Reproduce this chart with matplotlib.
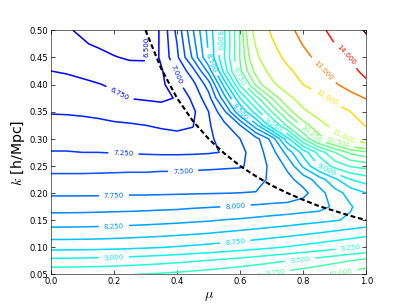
import numpy as np
import matplotlib
matplotlib.use("Agg")
import matplotlib.pyplot as plt
from matplotlib.colors import Normalize

# grid axes
mu = [0.00, 0.05, 0.10, 0.15, 0.20, 0.25, 0.30, 0.35, 0.40, 0.45, 0.50,
      0.55, 0.60, 0.65, 0.70, 0.75, 0.80, 0.85, 0.90, 0.95, 1.00]
k = [0.050, 0.075, 0.100, 0.125, 0.150, 0.175, 0.200, 0.225, 0.250, 0.275,
     0.300, 0.325, 0.350, 0.375, 0.400, 0.425, 0.450, 0.475, 0.500]

# estimated field values, one row per k
z_k050 = [9.45, 9.452, 9.457, 9.466, 9.478, 9.494, 9.513, 9.536, 9.562, 9.592, 9.625, 9.662, 9.702, 9.746, 9.793, 9.844, 9.898, 9.956, 10.017, 10.082, 10.15]
z_k075 = [9.08, 9.082, 9.088, 9.097, 9.11, 9.127, 9.148, 9.172, 9.2, 9.232, 9.268, 9.307, 9.35, 9.397, 9.448, 9.502, 9.56, 9.622, 9.688, 9.757, 9.83]
z_k100 = [8.67, 8.672, 8.676, 8.684, 8.695, 8.709, 8.726, 8.746, 8.769, 8.796, 8.825, 8.858, 8.893, 8.932, 8.974, 9.019, 9.067, 9.118, 9.172, 9.23, 9.29]
z_k125 = [8.375, 8.376, 8.38, 8.387, 8.397, 8.41, 8.425, 8.442, 8.463, 8.486, 8.51, 8.541, 8.573, 8.607, 8.645, 8.684, 8.727, 8.772, 8.821, 8.871, 8.925]
z_k150 = [8.12, 8.121, 8.125, 8.13, 8.14, 8.15, 8.16, 8.175, 8.19, 8.21, 8.23, 8.26, 8.28, 8.31, 8.34, 8.37, 8.41, 8.445, 8.485, 8.53, 8.57]
z_k175 = [7.9, 7.9, 7.903, 7.91, 7.914, 7.92, 7.93, 7.94, 7.95, 7.97, 7.985, 8.0, 8.02, 8.04, 8.07, 8.09, 8.12, 8.15, 8.3, 8.48, 8.62]
z_k200 = [7.71, 7.71, 7.71, 7.71, 7.715, 7.72, 7.72, 7.725, 7.73, 7.735, 7.74, 7.746, 7.753, 7.76, 7.77, 7.8, 7.93, 8.15, 8.4, 8.59, 8.75]
z_k225 = [7.57, 7.57, 7.57, 7.57, 7.58, 7.58, 7.58, 7.59, 7.59, 7.6, 7.6, 7.61, 7.62, 7.66, 7.8, 7.93, 8.1, 8.375, 8.69, 9.0, 9.12]
z_k250 = [7.41, 7.41, 7.41, 7.42, 7.42, 7.43, 7.43, 7.44, 7.44, 7.45, 7.46, 7.47, 7.48, 7.56, 7.83, 8.05, 8.55, 9.0, 9.35, 9.53, 9.6]
z_k275 = [7.26, 7.26, 7.25, 7.25, 7.24, 7.23, 7.22, 7.21, 7.21, 7.215, 7.23, 7.26, 7.43, 7.62, 7.89, 8.35, 8.85, 9.35, 9.75, 10.06, 10.2]
z_k300 = [7.16, 7.16, 7.15, 7.14, 7.12, 7.10, 7.08, 7.06, 7.04, 7.06, 7.2, 7.35, 7.5, 7.66, 8.08, 8.92, 9.75, 10.36, 10.71, 11.07, 11.36]
z_k325 = [7.07, 7.07, 7.06, 7.05, 7.03, 7.02, 7.0, 6.98, 6.97, 6.99, 7.22, 7.44, 7.75, 8.42, 9.19, 9.81, 10.33, 10.77, 11.22, 11.65, 12.05]
z_k350 = [6.985, 6.98, 6.97, 6.95, 6.92, 6.89, 6.85, 6.82, 6.86, 6.95, 7.25, 7.70, 8.5, 9.125, 9.75, 10.33, 10.875, 11.29, 11.64, 12.0, 12.5]
z_k375 = [6.91, 6.90, 6.88, 6.84, 6.79, 6.745, 6.73, 6.72, 6.76, 7.06, 7.40, 8.15, 9.0, 9.65, 10.25, 10.81, 11.32, 11.77, 12.22, 12.65, 13.05]
z_k400 = [6.83, 6.82, 6.79, 6.76, 6.72, 6.69, 6.67, 6.69, 6.94, 7.17, 7.62, 8.6, 9.55, 10.3, 10.85, 11.38, 12.0, 12.45, 12.9, 13.38, 13.85]
z_k425 = [6.75, 6.73, 6.70, 6.66, 6.61, 6.57, 6.56, 6.72, 7.03, 7.40, 8.08, 9.1, 9.95, 10.6, 11.2, 11.82, 12.36, 12.84, 13.32, 13.8, 14.2]
z_k450 = [6.69, 6.66, 6.62, 6.57, 6.51, 6.48, 6.48, 6.80, 7.20, 7.79, 8.5, 9.25, 10.02, 10.85, 11.6, 12.23, 12.74, 13.22, 13.65, 14.04, 14.5]
z_k475 = [6.64, 6.58, 6.52, 6.47, 6.44, 6.44, 6.47, 6.80, 7.25, 7.89, 8.55, 9.22, 10.02, 11.05, 11.88, 12.49, 13.05, 13.52, 14.0, 14.4, 14.8]
z_k500 = [6.60, 6.52, 6.47, 6.43, 6.41, 6.42, 6.47, 6.80, 7.32, 7.98, 8.59, 9.23, 10.04, 11.26, 12.125, 12.75, 13.3, 13.8, 14.25, 14.67, 15.08]

levels = [6.5, 6.75, 7.0, 7.25, 7.5, 7.75, 8.0, 8.25, 8.5, 8.75, 9.0, 9.25,
          9.5, 9.75, 10.0, 10.25, 10.5, 11.0, 12.0, 13.0, 14.0, 15.0]

# dashed cut line (k_parallel limit)
cut_mu = [0.30, 0.35, 0.40, 0.45, 0.50, 0.55, 0.60, 0.65, 0.70, 0.75, 0.80,
          0.85, 0.90, 0.95, 1.00]
cut_k = [0.500, 0.429, 0.375, 0.333, 0.300, 0.273, 0.250, 0.231, 0.214, 0.200,
         0.1875, 0.176, 0.167, 0.158, 0.150]

Z = np.array([z_k050, z_k075, z_k100, z_k125, z_k150, z_k175, z_k200, z_k225,
              z_k250, z_k275, z_k300, z_k325, z_k350, z_k375, z_k400, z_k425,
              z_k450, z_k475, z_k500])

# where the inline labels sit in the reference (layout only)
label_spots = [(0.315, 0.47), (0.22, 0.385), (0.387, 0.417), (0.23, 0.272),
               (0.42, 0.233), (0.20, 0.196), (0.585, 0.179), (0.20, 0.138),
               (0.60, 0.35), (0.584, 0.113), (0.51, 0.442), (0.20, 0.081),
               (0.876, 0.245), (0.95, 0.10), (0.705, 0.325), (0.79, 0.076),
               (0.53, 0.482), (0.71, 0.059), (0.917, 0.057), (0.60, 0.417),
               (0.82, 0.306), (0.908, 0.293), (0.93, 0.306), (0.876, 0.378),
               (0.86, 0.424), (0.933, 0.454)]

plt.rcParams['mathtext.fontset'] = 'cm'
DPI = 50.875
fig = plt.figure(figsize=(8, 6), dpi=DPI, facecolor='white')
ax = fig.add_axes([0.125, 0.1, 0.775, 0.8])

cs = ax.contour(mu, k, Z, levels=levels, cmap='jet',
                norm=Normalize(vmin=5.5, vmax=15.1), linewidths=2.2)
ax.clabel(cs, inline=True, fontsize=10, fmt='%1.3f', manual=label_spots)
ax.plot(cut_mu, cut_k, color='black', linestyle=(0, (2.3, 1.3)), linewidth=3)

ax.set_xlim(0, 1)
ax.set_ylim(0.05, 0.5)
ax.set_xticks([0.0, 0.2, 0.4, 0.6, 0.8, 1.0])
ax.set_yticks([0.05, 0.10, 0.15, 0.20, 0.25, 0.30, 0.35, 0.40, 0.45, 0.50])
ax.xaxis.set_major_formatter(matplotlib.ticker.FormatStrFormatter('%.1f'))
ax.yaxis.set_major_formatter(matplotlib.ticker.FormatStrFormatter('%.2f'))
ax.tick_params(direction='in', top=True, right=True, labelsize=12,
               length=5, width=1)
ax.set_xlabel(r'$\mu$', fontsize=20)
ax.set_ylabel(r'$k$ [h/Mpc]', fontsize=20)

fig.savefig('out.png', dpi=DPI, facecolor='white')
